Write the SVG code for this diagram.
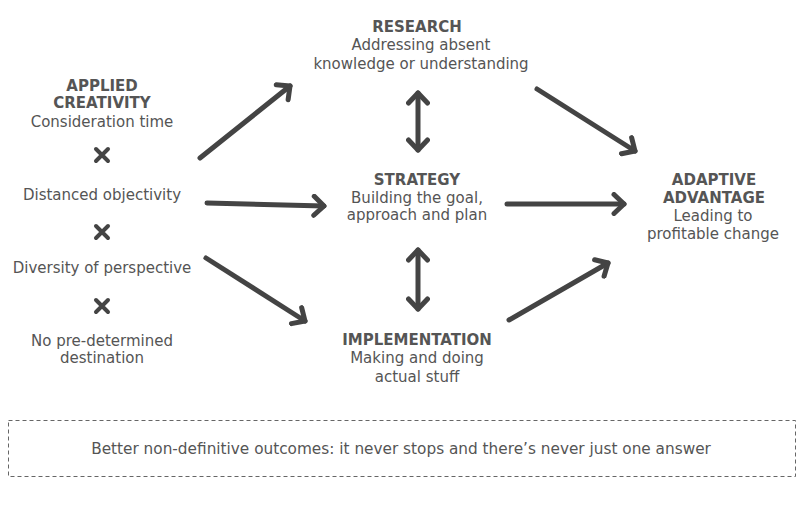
<svg xmlns="http://www.w3.org/2000/svg" width="800" height="513" viewBox="0 0 800 513">
<style>
  text { font-family: "DejaVu Sans", Verdana, sans-serif; font-size: 15px; fill: #555; text-anchor: middle; }
  .b { font-weight: bold; }
  .con line { stroke: #444; stroke-width: 5; stroke-linecap: round; fill: none; }
  .x { stroke: #444; stroke-width: 4; stroke-linecap: round; }
</style>
<defs>
  <marker id="ah" viewBox="0 0 24 24" markerWidth="24" markerHeight="24" refX="14" refY="12" markerUnits="userSpaceOnUse" orient="auto-start-reverse">
    <path d="M4,2.5 L14,12 L4,21.5" fill="none" stroke="#444" stroke-width="5" stroke-linecap="round" stroke-linejoin="round"/>
  </marker>
</defs>
<rect width="800" height="513" fill="#fff"/>

<g id="applied">
  <text class="b" x="102" y="91">APPLIED</text>
  <text class="b" x="102" y="108">CREATIVITY</text>
  <text x="102" y="127">Consideration time</text>
  <path class="x" d="M96,149 L108,161 M108,149 L96,161"/>
  <text x="102" y="200">Distanced objectivity</text>
  <path class="x" d="M96,226 L108,238 M108,226 L96,238"/>
  <text x="102" y="273">Diversity of perspective</text>
  <path class="x" d="M96,300 L108,312 M108,300 L96,312"/>
  <text x="102" y="346">No pre-determined</text>
  <text x="102" y="363">destination</text>
</g>

<g id="research">
  <text class="b" x="417" y="32">RESEARCH</text>
  <text x="421" y="50">Addressing absent</text>
  <text x="421" y="69">knowledge or understanding</text>
</g>

<g id="strategy">
  <text class="b" x="417" y="185">STRATEGY</text>
  <text x="417" y="203">Building the goal,</text>
  <text x="417" y="220">approach and plan</text>
</g>

<g id="implementation">
  <text class="b" x="417" y="345">IMPLEMENTATION</text>
  <text x="417" y="363">Making and doing</text>
  <text x="417" y="382">actual stuff</text>
</g>

<g id="adaptive">
  <text class="b" x="714" y="185">ADAPTIVE</text>
  <text class="b" x="714" y="203">ADVANTAGE</text>
  <text x="713" y="221">Leading to</text>
  <text x="713" y="239">profitable change</text>
</g>

<g id="connectors" class="con">
  <line x1="200" y1="158" x2="290" y2="86" marker-end="url(#ah)"/>
  <line x1="207" y1="203" x2="324" y2="206" marker-end="url(#ah)"/>
  <line x1="206" y1="258" x2="305" y2="321" marker-end="url(#ah)"/>
  <line x1="418" y1="93" x2="418" y2="150" marker-start="url(#ah)" marker-end="url(#ah)"/>
  <line x1="418" y1="250" x2="418" y2="309" marker-start="url(#ah)" marker-end="url(#ah)"/>
  <line x1="537" y1="89" x2="635" y2="151" marker-end="url(#ah)"/>
  <line x1="507" y1="204" x2="624" y2="204" marker-end="url(#ah)"/>
  <line x1="509" y1="320" x2="608" y2="263" marker-end="url(#ah)"/>
</g>

<g id="footer">
  <rect x="8.5" y="420.5" width="787" height="56" fill="none" stroke="#666" stroke-width="1" stroke-dasharray="4,3"/>
  <text x="401" y="454" style="font-size:15.3px">Better non-definitive outcomes: it never stops and there’s never just one answer</text>
</g>
</svg>
